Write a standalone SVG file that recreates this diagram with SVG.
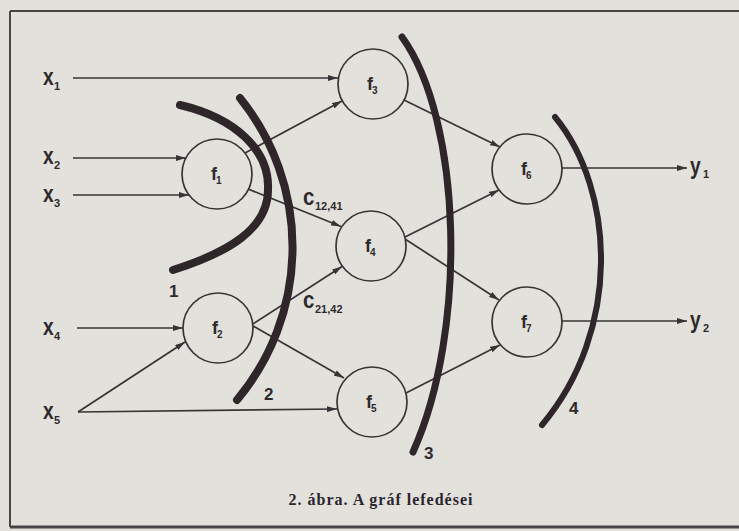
<svg xmlns="http://www.w3.org/2000/svg" width="739" height="531" viewBox="0 0 739 531">
<defs>
<marker id="ah" markerWidth="10" markerHeight="6" refX="10" refY="3" orient="auto" markerUnits="userSpaceOnUse"><path d="M0,0 L10,3 L0,6 z" fill="#3a3335"/></marker>
<style>
.bg{fill:#e3e1dc}
.frame{stroke:#4a4446;fill:none}
.node{fill:#e3e1dc;stroke:#3a3335;stroke-width:1.7}
.con{stroke:#3a3335;stroke-width:1.7;fill:none;marker-end:url(#ah)}
.arc{stroke:#2e2629;fill:none;stroke-linecap:round}
.lbl{font-family:"Liberation Sans",Arial,sans-serif;font-weight:bold;font-size:24px;fill:#2e2a2c}
.sub{font-family:"Liberation Sans",Arial,sans-serif;font-weight:bold;font-size:11px;fill:#2e2a2c}
.fl{font-family:"Liberation Sans",Arial,sans-serif;font-weight:bold;font-size:18px;fill:#2e2a2c}
.fs{font-family:"Liberation Sans",Arial,sans-serif;font-weight:bold;font-size:10px;fill:#2e2a2c}
.num{font-family:"Liberation Sans",Arial,sans-serif;font-weight:bold;font-size:17px;fill:#2e2a2c}
.cap{font-family:"Liberation Serif","Times New Roman",serif;font-weight:bold;font-size:16px;fill:#2a2530;letter-spacing:1px}
</style>
</defs>
<rect class="bg" x="0" y="0" width="739" height="531"/>
<line class="frame" x1="10" y1="11" x2="739" y2="11" stroke-width="2"/>
<line class="frame" x1="10" y1="11" x2="10" y2="527" stroke-width="2"/>
<line class="frame" x1="10" y1="527" x2="739" y2="527" stroke-width="3"/>

<g id="connectors">
<path class="con" d="M73,78 L338,78"/>
<path class="con" d="M73,158 L186,158"/>
<path class="con" d="M73,195 L189,195"/>
<path class="con" d="M77,328 L183,328"/>
<path class="con" d="M78,412 L185,342"/>
<path class="con" d="M78,412 L337,409"/>
<path class="con" d="M245,153 L342,101"/>
<path class="con" d="M248,189 L341,226.5"/>
<path class="con" d="M253,324 L342,266.5"/>
<path class="con" d="M253,326 L344,378"/>
<path class="con" d="M404,100 L500,147"/>
<path class="con" d="M405,237 L499,190"/>
<path class="con" d="M405,239 L499,300"/>
<path class="con" d="M406,393 L500,345"/>
<path class="con" d="M562,168 L687,168"/>
<path class="con" d="M562,321 L687,321"/>
</g>

<g id="in-x1"><text class="lbl" transform="translate(43,85) scale(0.8,1)">x</text><text class="sub" x="54" y="90">1</text></g>
<g id="in-x2"><text class="lbl" transform="translate(43,164) scale(0.8,1)">x</text><text class="sub" x="54" y="169">2</text></g>
<g id="in-x3"><text class="lbl" transform="translate(43,202) scale(0.8,1)">x</text><text class="sub" x="54" y="207">3</text></g>
<g id="in-x4"><text class="lbl" transform="translate(43,335) scale(0.8,1)">x</text><text class="sub" x="54" y="340">4</text></g>
<g id="in-x5"><text class="lbl" transform="translate(43,419) scale(0.8,1)">x</text><text class="sub" x="54" y="424">5</text></g>

<g id="f1"><circle class="node" cx="217" cy="174" r="35"/><text class="fl" x="211" y="180">f</text><text class="fs" x="216" y="184">1</text></g>
<g id="f2"><circle class="node" cx="218" cy="328" r="35"/><text class="fl" x="212" y="334">f</text><text class="fs" x="217" y="338">2</text></g>
<g id="f3"><circle class="node" cx="373" cy="84" r="35"/><text class="fl" x="367" y="90">f</text><text class="fs" x="372" y="94">3</text></g>
<g id="f4"><circle class="node" cx="371" cy="246" r="35"/><text class="fl" x="365" y="252">f</text><text class="fs" x="370" y="256">4</text></g>
<g id="f5"><circle class="node" cx="372" cy="402" r="35"/><text class="fl" x="366" y="408">f</text><text class="fs" x="371" y="412">5</text></g>
<g id="f6"><circle class="node" cx="527" cy="169" r="35"/><text class="fl" x="521" y="175">f</text><text class="fs" x="526" y="179">6</text></g>
<g id="f7"><circle class="node" cx="527" cy="322" r="35"/><text class="fl" x="521" y="328">f</text><text class="fs" x="526" y="332">7</text></g>

<g id="out-y1"><text class="lbl" transform="translate(690,174) scale(0.8,1)">y</text><text class="sub" x="703" y="178">1</text></g>
<g id="out-y2"><text class="lbl" transform="translate(690,328) scale(0.8,1)">y</text><text class="sub" x="703" y="332">2</text></g>

<g id="c1241"><text class="lbl" transform="translate(303,205) scale(0.85,1)">c</text><text class="sub" x="315" y="210">12,41</text></g>
<g id="c2142"><text class="lbl" transform="translate(303,308) scale(0.85,1)">c</text><text class="sub" x="315" y="313">21,42</text></g>

<g id="cuts">
<path class="arc" stroke-width="8" d="M180,105 C235,118 270,150 268,190 C268,228 230,252 173,270"/>
<path class="arc" stroke-width="8" d="M240,98 A238,238 0 0 1 237,400"/>
<path class="arc" stroke-width="7" d="M402,37 C462,120 468,330 413,452"/>
<path class="arc" stroke-width="6" d="M555,117 C615,190 622,330 542,425"/>
<text class="num" x="169" y="297">1</text>
<text class="num" x="264" y="400">2</text>
<text class="num" x="424" y="459">3</text>
<text class="num" x="569" y="414">4</text>
</g>

<text class="cap" x="381" y="505" text-anchor="middle">2. ábra. A gráf lefedései</text>
</svg>
